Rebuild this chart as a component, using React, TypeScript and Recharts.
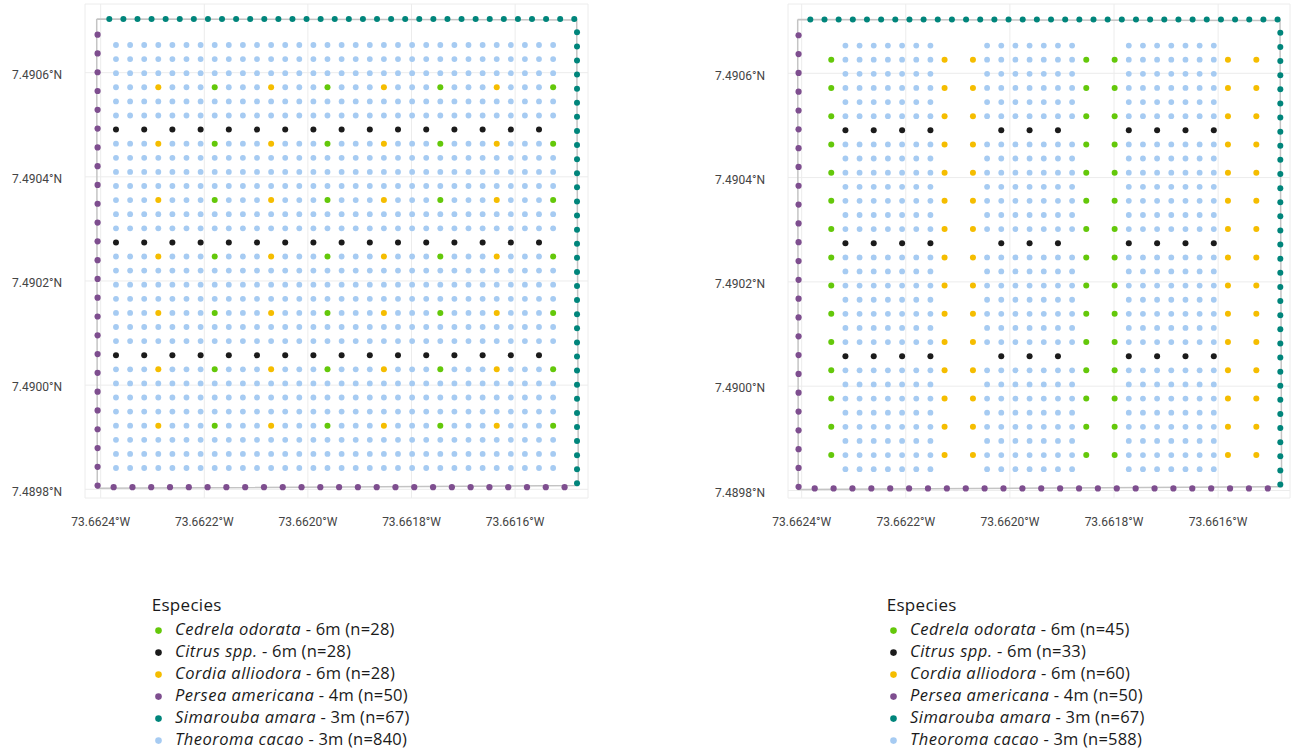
import React from 'react';
import { ScatterChart, Scatter, XAxis, YAxis, CartesianGrid } from 'recharts';

// ---- Shared field geometry (degrees) ----
const COL_LON = [
  -73.6623705, -73.6623432, -73.662316, -73.6622888, -73.6622616, -73.6622344, -73.6622071, -73.6621799,
  -73.6621527, -73.6621255, -73.6620983, -73.662071, -73.6620438, -73.6620166, -73.6619894, -73.6619622,
  -73.6619349, -73.6619077, -73.6618805, -73.6618533, -73.6618261, -73.6617988, -73.6617716, -73.6617444,
  -73.6617172, -73.66169, -73.6616627, -73.6616355, -73.6616083, -73.6615811, -73.6615539, -73.6615266,
];
const ROW_LAT = [
  7.4906532, 7.4906261, 7.490599, 7.490572, 7.4905449, 7.4905178, 7.4904907, 7.4904637, 7.4904366, 7.4904095,
  7.4903824, 7.4903554, 7.4903283, 7.4903012, 7.4902741, 7.490247, 7.49022, 7.4901929, 7.4901658, 7.4901387,
  7.4901117, 7.4900846, 7.4900575, 7.4900304, 7.4900034, 7.4899763, 7.4899492, 7.4899221, 7.4898951, 7.489868,
  7.4898409,
];

const SIM_TOP_LON = [
  -73.6623834, -73.6623562, -73.662329, -73.6623018, -73.6622746, -73.6622474, -73.6622202, -73.662193,
  -73.6621658, -73.6621386, -73.6621114, -73.6620842, -73.662057, -73.6620298, -73.6620026, -73.6619754,
  -73.6619482, -73.661921, -73.6618938, -73.6618666, -73.6618394, -73.6618122, -73.661785, -73.6617578,
  -73.6617306, -73.6617034, -73.6616762, -73.661649, -73.6616218, -73.6615946, -73.6615674, -73.6615402,
  -73.661513, -73.6614858,
];
const SIM_TOP_LAT = 7.490703;
const SIM_RIGHT_LAT = [
  7.4906776, 7.4906505, 7.4906235, 7.4905964, 7.4905693, 7.4905422, 7.4905152, 7.4904881, 7.490461, 7.490434,
  7.4904069, 7.4903798, 7.4903528, 7.4903257, 7.4902986, 7.4902715, 7.4902445, 7.4902174, 7.4901903, 7.4901633,
  7.4901362, 7.4901091, 7.4900821, 7.490055, 7.4900279, 7.4900008, 7.4899738, 7.4899467, 7.4899196, 7.4898926,
  7.4898655, 7.4898384, 7.4898114,
];
const SIM_RIGHT_LON = -73.6614805;

const PER_LEFT_LAT = [
  7.490673, 7.4906369, 7.4906008, 7.4905648, 7.4905287, 7.4904926, 7.4904565, 7.4904204, 7.4903844, 7.4903483,
  7.4903122, 7.4902761, 7.49024, 7.490204, 7.4901679, 7.4901318, 7.4900957, 7.4900596, 7.4900236, 7.4899875,
  7.4899514, 7.4899153, 7.4898792, 7.4898432, 7.4898071,
];
const PER_LEFT_LON = -73.662406;
const PER_BOTTOM_LON = [
  -73.662375, -73.6623387, -73.6623025, -73.6622662, -73.6622299, -73.6621937, -73.6621574, -73.6621211,
  -73.6620848, -73.6620486, -73.6620123, -73.661976, -73.6619398, -73.6619035, -73.6618672, -73.661831,
  -73.6617947, -73.6617584, -73.6617221, -73.6616859, -73.6616496, -73.6616133, -73.6615771, -73.6615408,
  -73.6615045,
];
const PER_BOTTOM_LAT = 7.489804;

const BOUNDARY_LON = [-73.6624077, -73.6614811, -73.661478, -73.6624066, -73.6624077];
const BOUNDARY_LAT = [7.4907031, 7.4907012, 7.4898073, 7.4898019, 7.4907031];

const X_TICKS = [-73.6624, -73.6622, -73.662, -73.6618, -73.6616];
const Y_TICKS = [7.4898, 7.49, 7.4902, 7.4904, 7.4906];

// ---- Design A (left) ----
const A_CITRUS_ROWS = [6, 14, 22];
const A_CITRUS_COLS = [0, 2, 4, 6, 8, 10, 12, 14, 16, 18, 20, 22, 24, 26, 28, 30];
const A_TREE_ROWS = [3, 7, 11, 15, 19, 23, 27];
const A_CEDRELA_COLS = [7, 15, 23, 31];
const A_CORDIA_COLS = [3, 11, 19, 27];
const A_CACAO_COLS = [
  0, 1, 2, 3, 4, 5, 6, 7, 8, 9, 10, 11, 12, 13, 14, 15, 16, 17, 18, 19, 20, 21, 22, 23, 24, 25, 26, 27, 28, 29, 30, 31,
];

// ---- Design B (right) ----
const B_CITRUS_ROWS = [6, 14, 22];
const B_CITRUS_COLS = [2, 4, 6, 8, 13, 15, 17, 22, 24, 26, 28];
const B_TREE_ROWS = [1, 3, 5, 7, 9, 11, 13, 15, 17, 19, 21, 23, 25, 27, 29];
const B_CEDRELA_COLS = [1, 19, 21];
const B_CORDIA_COLS = [9, 11, 29, 31];
const B_CACAO_COLS = [2, 3, 4, 5, 6, 7, 8, 12, 13, 14, 15, 16, 17, 18, 22, 23, 24, 25, 26, 27, 28];

// ---- Legend ----
const SPECIES = ['Cedrela odorata', 'Citrus spp.', 'Cordia alliodora', 'Persea americana', 'Simarouba amara', 'Theoroma cacao'];
const HEIGHTS = ['6m', '6m', '6m', '4m', '3m', '3m'];
const COUNTS_A = [28, 28, 28, 50, 67, 840];
const COUNTS_B = [45, 33, 60, 50, 67, 588];
const COLORS = ['#64c80a', '#1b1b1b', '#f5bd00', '#7e4e8f', '#00857b', '#a6cbf2'];

type Pt = { lon: number; lat: number };

const grid = (rows: number[], cols: number[]): Pt[] =>
  rows.flatMap((r) => cols.map((c) => ({ lon: COL_LON[c], lat: ROW_LAT[r] })));

const cacao = (citrusRows: number[], treeRows: number[], treeCols: number[], cols: number[]): Pt[] => {
  const pts: Pt[] = [];
  ROW_LAT.forEach((lat, r) => {
    if (citrusRows.includes(r)) return;
    cols.forEach((c) => {
      if (treeRows.includes(r) && treeCols.includes(c)) return;
      pts.push({ lon: COL_LON[c], lat });
    });
  });
  return pts;
};

const SIMAROUBA: Pt[] = [
  ...SIM_TOP_LON.map((lon) => ({ lon, lat: SIM_TOP_LAT })),
  ...SIM_RIGHT_LAT.map((lat) => ({ lon: SIM_RIGHT_LON, lat })),
];
const PERSEA: Pt[] = [
  ...PER_LEFT_LAT.map((lat) => ({ lon: PER_LEFT_LON, lat })),
  ...PER_BOTTOM_LON.map((lon) => ({ lon, lat: PER_BOTTOM_LAT })),
];
const BOUNDARY: Pt[] = BOUNDARY_LON.map((lon, i) => ({ lon, lat: BOUNDARY_LAT[i] }));

const DESIGN_A = {
  cedrela: grid(A_TREE_ROWS, A_CEDRELA_COLS),
  citrus: grid(A_CITRUS_ROWS, A_CITRUS_COLS),
  cordia: grid(A_TREE_ROWS, A_CORDIA_COLS),
  cacao: cacao(A_CITRUS_ROWS, A_TREE_ROWS, [...A_CEDRELA_COLS, ...A_CORDIA_COLS], A_CACAO_COLS),
};
const DESIGN_B = {
  cedrela: grid(B_TREE_ROWS, B_CEDRELA_COLS),
  citrus: grid(B_CITRUS_ROWS, B_CITRUS_COLS),
  cordia: grid(B_TREE_ROWS, B_CORDIA_COLS),
  cacao: cacao(B_CITRUS_ROWS, B_TREE_ROWS, [...B_CEDRELA_COLS, ...B_CORDIA_COLS], B_CACAO_COLS),
};

const dot = (color: string, r = 3) => (props: any) =>
  props.cx == null ? <g /> : <circle cx={props.cx} cy={props.cy} r={r} fill={color} />;

const FONT = 'Roboto, "DejaVu Sans", sans-serif';
const LEGEND_FONT = '"Open Sans", "Noto Sans", sans-serif';
const tickStyle = { fill: '#444444', fontSize: 12, fontFamily: FONT };

type MapProps = {
  design: typeof DESIGN_A;
  width: number;
  height: number;
  yAxisWidth: number;
  marginRight: number;
  xDomain: [number, number];
  yDomain: [number, number];
};

function MapChart({ design, width, height, yAxisWidth, marginRight, xDomain, yDomain }: MapProps) {
  return (
    <ScatterChart width={width} height={height} margin={{ top: 4, right: marginRight, bottom: 17, left: 0 }}>
      <CartesianGrid stroke="#ececec" strokeWidth={1} />
      <XAxis
        type="number"
        dataKey="lon"
        domain={xDomain}
        allowDataOverflow
        ticks={X_TICKS}
        tickFormatter={(v: number) => `${Math.abs(v).toFixed(4)}°W`}
        axisLine={false}
        tickLine={false}
        tickSize={0}
        tickMargin={19}
        height={30}
        tick={tickStyle}
        interval={0}
      />
      <YAxis
        type="number"
        dataKey="lat"
        domain={yDomain}
        allowDataOverflow
        ticks={Y_TICKS}
        tickFormatter={(v: number) => `${v.toFixed(4)}°N`}
        axisLine={false}
        tickLine={false}
        tickSize={0}
        tickMargin={23}
        width={yAxisWidth}
        tick={{ ...tickStyle, dy: 2 }}
        interval={0}
      />
      <Scatter
        data={BOUNDARY}
        line={{ stroke: '#c4c4c4', strokeWidth: 1.5 }}
        shape={() => <g />}
        isAnimationActive={false}
      />
      <Scatter data={PERSEA} shape={dot(COLORS[3], 3.1)} isAnimationActive={false} />
      <Scatter data={SIMAROUBA} shape={dot(COLORS[4], 3)} isAnimationActive={false} />
      <Scatter data={design.cacao} shape={dot(COLORS[5], 2.9)} isAnimationActive={false} />
      <Scatter data={design.citrus} shape={dot(COLORS[1], 3)} isAnimationActive={false} />
      <Scatter data={design.cordia} shape={dot(COLORS[2], 3)} isAnimationActive={false} />
      <Scatter data={design.cedrela} shape={dot(COLORS[0], 3)} isAnimationActive={false} />
    </ScatterChart>
  );
}

function LegendBlock({ x, counts }: { x: number; counts: number[] }) {
  return (
    <g fontFamily={LEGEND_FONT}>
      <text x={x} y={610.7} fontSize={17} fill="#1a1a1a" letterSpacing={0.3}>
        Especies
      </text>
      {SPECIES.map((s, i) => (
        <g key={s}>
          <circle cx={x + 6.8} cy={630.6 + 22 * i} r={3.3} fill={COLORS[i]} />
          <text x={x + 23.3} y={635 + 22 * i} fontSize={16.5} fill="#1a1a1a">
            <tspan fontStyle="italic" letterSpacing={0.5}>{s}</tspan>
            <tspan letterSpacing={0.2}>{`\u00a0- ${HEIGHTS[i]} (n=${counts[i]})`}</tspan>
          </text>
        </g>
      ))}
    </g>
  );
}

export default function App() {
  return (
    <div style={{ position: 'absolute', left: 0, top: 0, width: 1291, height: 751, background: '#ffffff', fontFamily: FONT }}>
      <div style={{ position: 'absolute', left: 0, top: 0 }}>
        <MapChart
          design={DESIGN_A}
          width={600}
          height={545}
          yAxisWidth={85}
          marginRight={12}
          xDomain={[-73.6624303, -73.6614593]}
          yDomain={[7.4897833, 7.4907319]}
        />
      </div>
      <div style={{ position: 'absolute', left: 700, top: 0 }}>
        <MapChart
          design={DESIGN_B}
          width={591}
          height={545}
          yAxisWidth={88}
          marginRight={1}
          xDomain={[-73.6624263, -73.6614619]}
          yDomain={[7.4897856, 7.4907329]}
        />
      </div>
      <svg
        width={1291}
        height={751}
        style={{ position: 'absolute', left: 0, top: 0, pointerEvents: 'none' }}
      >
        <LegendBlock x={151.7} counts={COUNTS_A} />
        <LegendBlock x={886.7} counts={COUNTS_B} />
      </svg>
    </div>
  );
}
